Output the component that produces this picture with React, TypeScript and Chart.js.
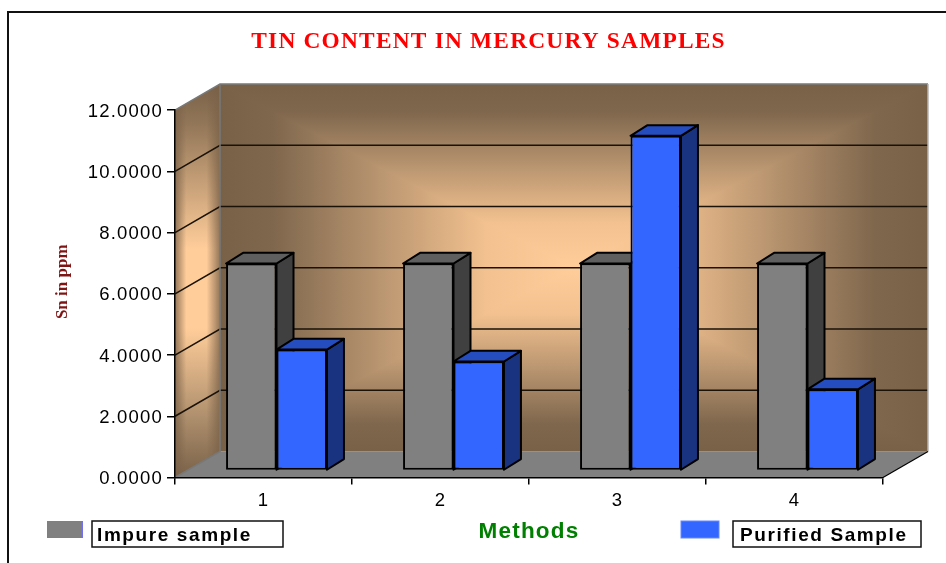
import React, { useEffect, useRef } from "react";
import { Chart, registerables } from "chart.js";

Chart.register(...registerables);

const categories = ["1", "2", "3", "4"];
const impureSample = [6.76, 6.76, 6.76, 6.76];
const purifiedSample = [3.95, 3.56, 10.93, 2.65];
const titleText = "TIN CONTENT IN MERCURY SAMPLES";
const xTitle = "Methods";
const yTitle = "Sn in ppm";
const impureLabel = "Impure sample";
const purifiedLabel = "Purified Sample";

const WALL_DX = 45;
const WALL_DY = -26;
const BAR_SHIFT_X = 13;
const BAR_SHIFT_Y = -7;
const BAR_DX = 17;
const BAR_DY = -10.7;
const SANS = "'Liberation Sans', Arial, sans-serif";
const SERIF = "'Liberation Serif', 'Times New Roman', serif";
const PEACH = "#FFCD9A";
const BROWN = "#796148";

const faces = [
  { side: "#404040", top: "#5F5F5F" },
  { side: "#1A3380", top: "#264DBF" },
];

function wallGradient(ctx: any, x0: number, y0: number, x1: number, y1: number) {
  const g = ctx.createLinearGradient(x0, y0, x1, y1);
  g.addColorStop(0, PEACH);
  g.addColorStop(0.25, "#F2C18F");
  g.addColorStop(0.55, "#B99570");
  g.addColorStop(0.85, "#7F674D");
  g.addColorStop(1, BROWN);
  return g;
}

function poly(ctx: any, pts: number[][]) {
  ctx.beginPath();
  pts.forEach(([x, y], i) => (i ? ctx.lineTo(x, y) : ctx.moveTo(x, y)));
  ctx.closePath();
}

const scene3d = {
  id: "scene3d",
  afterLayout(chart: any) {
    if (chart.titleBlock && !chart.titleBlock.__moved) {
      chart.titleBlock.__moved = true;
      chart.titleBlock.left += 47;
      chart.titleBlock.right += 47;
    }
    const y = chart.scales.y;
    if (!y.__wrapped) {
      y.__wrapped = true;
      const origTitle = y.drawTitle;
      y.drawTitle = function () {
        const c = chart.ctx;
        c.save();
        c.letterSpacing = "0px";
        c.translate(0, -12);
        origTitle.call(y);
        c.restore();
      };
      const origLabels = y.drawLabels;
      y.drawLabels = function (area: any) {
        const c = chart.ctx;
        c.save();
        c.translate(0, 1.5);
        origLabels.call(y, area);
        c.restore();
      };
    }
  },
  beforeDraw(chart: any) {
    const { ctx, chartArea: a, scales } = chart;
    const y = scales.y;
    ctx.letterSpacing = "1.2px";
    ctx.save();
    ctx.fillStyle = "#fff";
    ctx.fillRect(0, 0, chart.width, chart.height);

    const L = a.left + WALL_DX, R = a.right + WALL_DX, T = a.top + WALL_DY, B = a.bottom + WALL_DY;
    const cx = (L + R) / 2, cy = Math.round((T + B) / 2);

    // floor
    ctx.fillStyle = "#808080";
    poly(ctx, [[a.left, a.bottom], [a.right, a.bottom], [R, B], [L, B]]);
    ctx.fill();

    // back wall: rectangular path gradient, top and bottom halves first
    ctx.fillStyle = wallGradient(ctx, cx, cy, cx, T);
    ctx.fillRect(L, T, R - L, cy - T);
    ctx.fillStyle = wallGradient(ctx, cx, cy, cx, B);
    ctx.fillRect(L, cy, R - L, B - cy);
    const tris: any[] = [
      [[R, T], [R, B], R, cy],
      [[L, B], [L, T], L, cy],
    ];
    tris.forEach(([p, q, ex, ey]) => {
      ctx.save();
      poly(ctx, [[cx, cy], p, q]);
      ctx.clip();
      ctx.fillStyle = wallGradient(ctx, cx, cy, ex, ey);
      ctx.fillRect(L, T, R - L, B - T);
      ctx.restore();
    });

    // side wall
    ctx.save();
    poly(ctx, [[a.left, a.top], [L, T], [L, B], [a.left, a.bottom]]);
    ctx.clip();
    const v = ctx.createLinearGradient(0, T, 0, a.bottom);
    v.addColorStop(0, BROWN);
    v.addColorStop(0.1, "#927658");
    v.addColorStop(0.42, PEACH);
    v.addColorStop(0.62, PEACH);
    v.addColorStop(0.85, "#AD8E6C");
    v.addColorStop(1, BROWN);
    ctx.fillStyle = v;
    ctx.fillRect(a.left, T, WALL_DX, a.bottom - T);
    const h = ctx.createLinearGradient(a.left, 0, L, 0);
    h.addColorStop(0, "rgba(121,97,72,0.8)");
    h.addColorStop(0.25, "rgba(121,97,72,0)");
    h.addColorStop(0.7, "rgba(121,97,72,0)");
    h.addColorStop(1, "rgba(121,97,72,0.8)");
    ctx.fillStyle = h;
    ctx.fillRect(a.left, T, WALL_DX, a.bottom - T);
    ctx.restore();

    // grid lines on both walls
    ctx.strokeStyle = "#1a1208";
    ctx.lineWidth = 1.5;
    y.ticks.forEach((t: any) => {
      const py = y.getPixelForValue(t.value);
      if (t.value === 0 || t.value === 12) return;
      ctx.beginPath();
      ctx.moveTo(a.left, py);
      ctx.lineTo(L, py + WALL_DY);
      ctx.lineTo(R, py + WALL_DY);
      ctx.stroke();
    });

    // wall edges
    ctx.lineWidth = 1.5;
    ctx.strokeStyle = "#787878";
    ctx.beginPath();
    ctx.moveTo(a.left, a.top);
    ctx.lineTo(L, T);
    ctx.lineTo(R, T);
    ctx.moveTo(L, T);
    ctx.lineTo(L, B);
    ctx.lineTo(a.left, a.bottom);
    ctx.stroke();
    ctx.strokeStyle = "#B4B4B4";
    ctx.beginPath();
    ctx.moveTo(R, T);
    ctx.lineTo(R, B);
    ctx.stroke();
    ctx.strokeStyle = "#000";
    ctx.lineWidth = 1.2;
    ctx.beginPath();
    ctx.moveTo(a.right, a.bottom);
    ctx.lineTo(R, B);
    ctx.stroke();
    ctx.restore();
  },
  beforeDatasetsDraw(chart: any) {
    const { ctx } = chart;
    chart.data.datasets.forEach((_: any, i: number) => {
      const meta = chart.getDatasetMeta(i);
      ctx.save();
      ctx.translate(BAR_SHIFT_X, BAR_SHIFT_Y);
      ctx.strokeStyle = "#000";
      ctx.lineWidth = 2;
      ctx.lineJoin = "round";
      meta.data.forEach((bar: any) => {
        const { x, y, base, width } = bar.getProps(["x", "y", "base", "width"], true);
        const l = x - width / 2, r = x + width / 2;
        ctx.fillStyle = faces[i].side;
        poly(ctx, [[r, y], [r + BAR_DX, y + BAR_DY], [r + BAR_DX, base + BAR_DY], [r, base]]);
        ctx.fill();
        ctx.stroke();
        ctx.fillStyle = faces[i].top;
        poly(ctx, [[l, y], [r, y], [r + BAR_DX, y + BAR_DY], [l + BAR_DX, y + BAR_DY]]);
        ctx.fill();
        ctx.stroke();
      });
      meta.controller.draw();
      ctx.restore();
    });
    return false;
  },
  afterDraw(chart: any) {
    const { ctx } = chart;
    ctx.save();
    // outer frame
    ctx.strokeStyle = "#111";
    ctx.lineWidth = 2;
    ctx.beginPath();
    ctx.moveTo(8, 563);
    ctx.lineTo(8, 12);
    ctx.lineTo(946, 12);
    ctx.stroke();

    // legend
    const items = [
      { sw: [47.5, 521.5, 35, 16], box: [92, 521, 191, 26], swBorder: "#7070F0", tx: 97 },
      { sw: [681, 521, 38, 17], box: [733, 521, 188, 26], swBorder: "#6688FF", tx: 740 },
    ];
    items.forEach((it, i) => {
      const ds = chart.data.datasets[i];
      ctx.fillStyle = ds.backgroundColor;
      ctx.fillRect(it.sw[0], it.sw[1], it.sw[2], it.sw[3]);
      ctx.strokeStyle = it.swBorder;
      ctx.lineWidth = 1;
      ctx.strokeRect(it.sw[0], it.sw[1], it.sw[2], it.sw[3]);
      ctx.fillStyle = "#fff";
      ctx.fillRect(it.box[0], it.box[1], it.box[2], it.box[3]);
      ctx.strokeStyle = "#111";
      ctx.lineWidth = 1.5;
      ctx.strokeRect(it.box[0], it.box[1], it.box[2], it.box[3]);
      ctx.fillStyle = "#000";
      ctx.font = `bold 19px ${SANS}`;
      ctx.letterSpacing = "1.6px";
      ctx.textAlign = "left";
      ctx.textBaseline = "middle";
      ctx.fillText(ds.label, it.tx, 536);
    });
    ctx.restore();
  },
};

export default function App() {
  const ref = useRef<HTMLCanvasElement | null>(null);
  useEffect(() => {
    const chart = new Chart(ref.current as HTMLCanvasElement, {
      type: "bar",
      data: {
        labels: categories,
        datasets: [
          { label: impureLabel, data: impureSample, backgroundColor: "#808080", borderColor: "#000", borderWidth: 2, borderSkipped: false },
          { label: purifiedLabel, data: purifiedSample, backgroundColor: "#3366FF", borderColor: "#000", borderWidth: 2, borderSkipped: false },
        ],
      },
      options: {
        responsive: false,
        animation: false,
        categoryPercentage: 0.57,
        barPercentage: 1,
        layout: { padding: { top: 0, left: 0, right: 63, bottom: 0 } },
        plugins: {
          legend: { display: false },
          tooltip: { enabled: false },
          title: {
            display: true,
            text: titleText,
            color: "#FF0000",
            font: { family: SERIF, size: 23.4, weight: "bold", lineHeight: 1.2 },
            padding: { top: 28, bottom: 54 },
          },
        },
        scales: {
          x: {
            afterFit: (s: any) => { s.height = 85.5; },
            grid: { drawOnChartArea: false, color: "#000", tickLength: 7, lineWidth: 1.5 },
            border: { color: "#000", width: 1.5 },
            ticks: { color: "#000", font: { family: SANS, size: 18.5 }, padding: 5, maxRotation: 0 },
            title: {
              display: true,
              text: xTitle,
              color: "#008000",
              align: "center",
              font: { family: SANS, size: 22.5, weight: "bold" },
              padding: { top: 0, bottom: 18 },
            },
          },
          y: {
            min: 0,
            max: 12,
            afterFit: (s: any) => { s.width = 175; },
            grid: { drawOnChartArea: false, color: "#000", tickLength: 8, lineWidth: 1.5 },
            border: { color: "#000", width: 1.5 },
            ticks: {
              stepSize: 2,
              color: "#000",
              font: { family: SANS, size: 18.5 },
              padding: 4,
              callback: (v: any) => Number(v).toFixed(4),
            },
            title: {
              display: true,
              text: yTitle,
              color: "#7F1414",
              font: { family: SERIF, size: 17, weight: "bold" },
              padding: { top: 52, bottom: 0 },
            },
          },
        },
      },
      plugins: [scene3d],
    } as any);
    return () => chart.destroy();
  }, []);
  return (
    <div style={{ position: "absolute", left: 0, top: 0, width: 946, height: 563, overflow: "hidden" }}>
      <canvas ref={ref} width={946} height={563} style={{ display: "block" }} />
    </div>
  );
}
